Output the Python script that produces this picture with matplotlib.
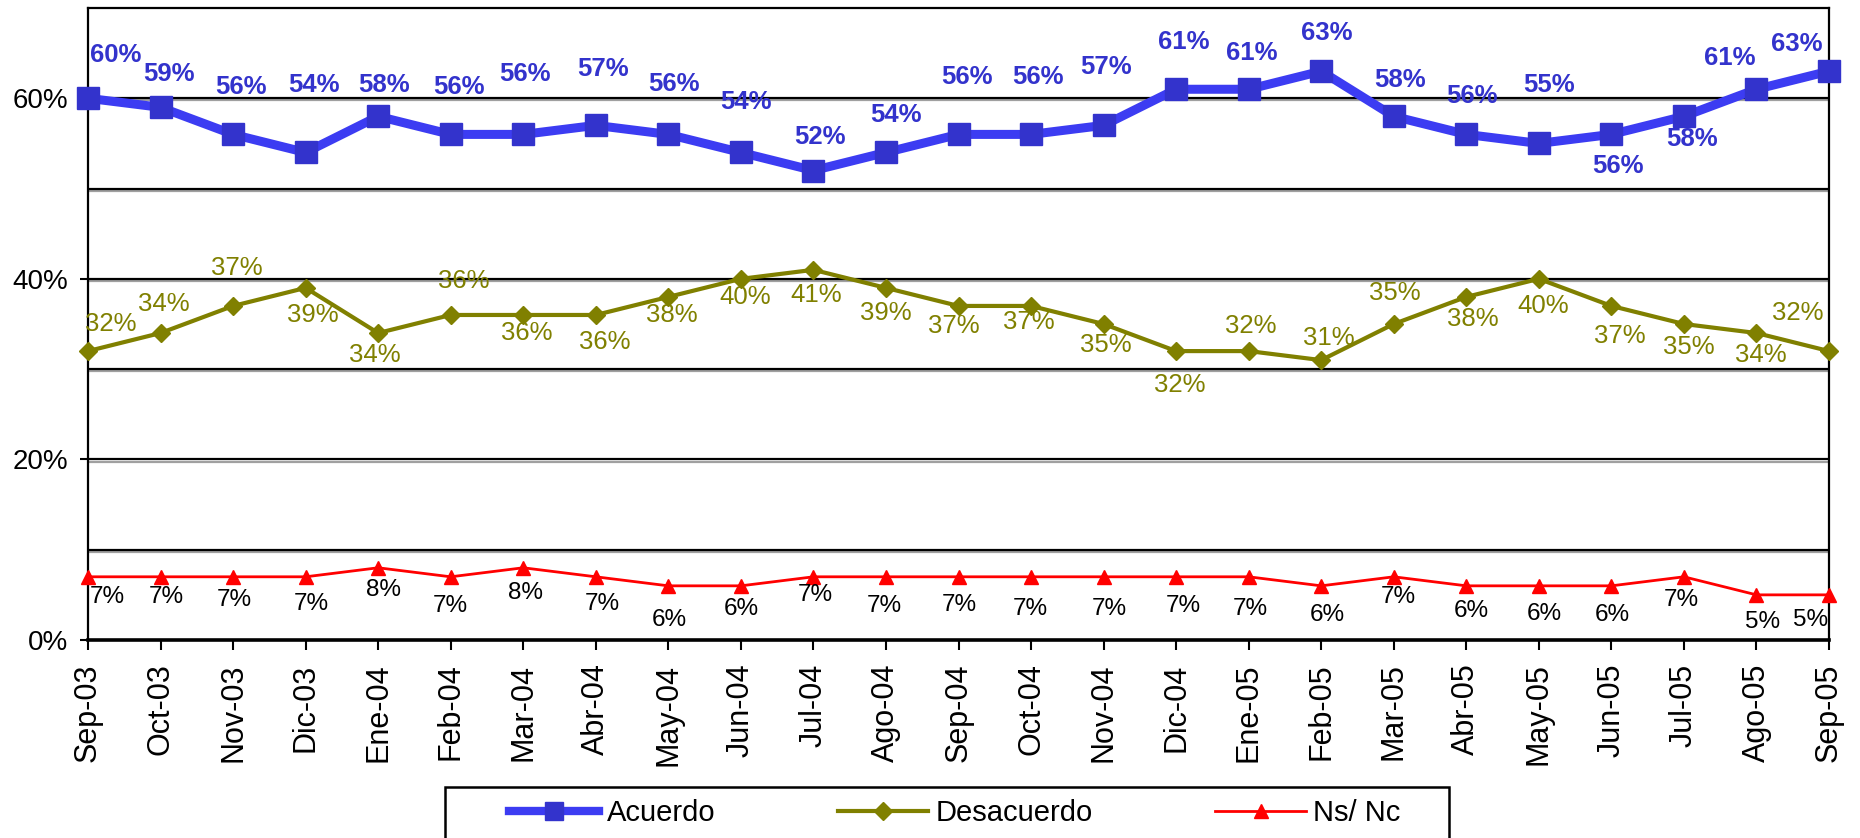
import matplotlib
matplotlib.use("Agg")
import matplotlib.pyplot as plt
import matplotlib.patheffects as pe
from matplotlib.lines import Line2D
from matplotlib.patches import Rectangle

months = ["Sep-03", "Oct-03", "Nov-03", "Dic-03", "Ene-04", "Feb-04", "Mar-04",
          "Abr-04", "May-04", "Jun-04", "Jul-04", "Ago-04", "Sep-04", "Oct-04",
          "Nov-04", "Dic-04", "Ene-05", "Feb-05", "Mar-05", "Abr-05", "May-05",
          "Jun-05", "Jul-05", "Ago-05", "Sep-05"]
acuerdo = [60, 59, 56, 54, 58, 56, 56, 57, 56, 54, 52, 54, 56, 56, 57, 61, 61,
           63, 58, 56, 55, 56, 58, 61, 63]
desacuerdo = [32, 34, 37, 39, 34, 36, 36, 36, 38, 40, 41, 39, 37, 37, 35, 32, 32,
              31, 35, 38, 40, 37, 35, 34, 32]
nsnc = [7, 7, 7, 7, 8, 7, 8, 7, 6, 6, 7, 7, 7, 7, 7, 7, 7, 6, 7, 6, 6, 6, 7, 5, 5]
series_names = ["Acuerdo", "Desacuerdo", "Ns/ Nc"]
y_ticks = [0, 20, 40, 60]
y_minor = [10, 30, 50]

# label offsets in pixels (dx right, dy down)
acu_dx = [28, 8, 8, 8, 6, 8, 2, 7, 6, 5, 7, 10, 8, 7, 2.5, 8, 3, 6, 6, 6, 10.5, 7, 8, -27, -32]
acu_dy = [-41, -31, -45, -65, -29, -45, -58, -54, -48, -48, -32, -35, -55, -55, -56, -45,
          -34, -36, -34, -36, -56, 34, 25, -29, -25]
des_dx = [23, 3, 3.5, 7, -3, 13, 3.5, 9, 3, 4.5, 3, 0, -4.5, -2, 2, 4, 2, 8, 1, 7, 4, 8,
          4.5, 4.5, -31]
des_dy = [-25, -27, -36, 29, 24, -32, 20, 29, 20, 20, 27, 27, 22, 18, 23, 36, -23, -20,
          -29, 24, 29, 32, 25, 24, -36]
ns_dx = [19, 6, 1, 6, 5, 0, 2, 6.5, 0.5, 0, 2, -2, 1, -1, 6, 7, 2, 6, 5, 5, 5, 1, -3, 6, -18]
ns_dy = [22, 22, 25, 29, 24, 31, 27, 29, 36, 25, 20, 31, 30, 34, 34, 31, 34, 31, 22, 27,
         30, 31, 25, 29, 27]

FONT = ["Liberation Sans", "DejaVu Sans"]
plt.rcParams["font.family"] = FONT

W, H = 1860, 838
fig = plt.figure(figsize=(W / 100, H / 100), dpi=100)
left, right, top, bottom = 88, 1829, 8, 640
ax = fig.add_axes([left / W, 1 - bottom / H, (right - left) / W, (bottom - top) / H])

x = list(range(len(months)))
ax.set_xlim(0, len(months) - 1)
ax.set_ylim(0, 70)

# gridlines with a light shadow
shadow = [pe.SimpleLineShadow(offset=(0, -1.5), shadow_color="#888888", alpha=0.8), pe.Normal()]
for v in y_ticks[1:] + y_minor:
    ax.axhline(v, color="black", lw=1.6, zorder=1, path_effects=shadow)

c_acu_line = "#3C3CF2"
c_acu = "#3333CC"
c_des = "#808000"
c_ns = "#FF0000"

ax.plot(x, acuerdo, color=c_acu_line, lw=6.5, marker="s", markersize=16.5,
        markerfacecolor=c_acu, markeredgecolor=c_acu, zorder=4, clip_on=False)
ax.plot(x, desacuerdo, color=c_des, lw=3, marker="D", markersize=8.7,
        markerfacecolor=c_des, markeredgecolor=c_des, zorder=4, clip_on=False)
ax.plot(x, nsnc, color=c_ns, lw=2, marker="^", markersize=9.6,
        markerfacecolor=c_ns, markeredgecolor=c_ns, zorder=4, clip_on=False)

for i in x:
    ax.annotate(f"{acuerdo[i]}%", (i, acuerdo[i]), xytext=(acu_dx[i], -acu_dy[i] + 2),
                textcoords="offset pixels", ha="center", va="center",
                fontsize=18.5, fontweight="bold", color=c_acu, zorder=6, annotation_clip=False)
    ax.annotate(f"{desacuerdo[i]}%", (i, desacuerdo[i]), xytext=(des_dx[i], -des_dy[i] + 2),
                textcoords="offset pixels", ha="center", va="center",
                fontsize=18.5, color=c_des, zorder=6, annotation_clip=False)
    ax.annotate(f"{nsnc[i]}%", (i, nsnc[i]), xytext=(ns_dx[i], -ns_dy[i] + 2),
                textcoords="offset pixels", ha="center", va="center",
                fontsize=17.5, color="black", zorder=6, annotation_clip=False)

ax.set_yticks(y_ticks)
ax.set_yticklabels([f"{v}%" for v in y_ticks], fontsize=20)
ax.set_xticks(x)
ax.set_xticklabels(months, rotation=90, fontsize=22)
ax.tick_params(axis="y", length=6, width=1.5, pad=8, direction="out")
ax.tick_params(axis="x", length=7, width=1.5, pad=10, direction="out")

for s in ["left", "right", "top"]:
    ax.spines[s].set_linewidth(1.6)
    ax.spines[s].set_color("black")
ax.spines["bottom"].set_linewidth(2.6)
ax.spines["bottom"].set_zorder(5)

# legend
handles = [
    Line2D([], [], color=c_acu_line, lw=6, marker="s", markersize=12.5,
           markerfacecolor=c_acu, markeredgecolor=c_acu),
    Line2D([], [], color=c_des, lw=3, marker="D", markersize=8.7,
           markerfacecolor=c_des, markeredgecolor=c_des),
    Line2D([], [], color=c_ns, lw=2, marker="^", markersize=10,
           markerfacecolor=c_ns, markeredgecolor=c_ns),
]
fig.patches.append(Rectangle((445 / W, 1 - 842 / H), (1449 - 445) / W, (842 - 787) / H,
                             transform=fig.transFigure, fill=False, edgecolor="black",
                             lw=1.8, clip_on=False))
leg = fig.legend(handles, series_names, loc="center left",
                 bbox_to_anchor=(509 / W, 1 - 813 / H), ncol=3, frameon=False,
                 fontsize=21, handlelength=3.1, handletextpad=0.25,
                 columnspacing=4.2, borderpad=0, borderaxespad=0)

fig.savefig("out.png", dpi=100)
